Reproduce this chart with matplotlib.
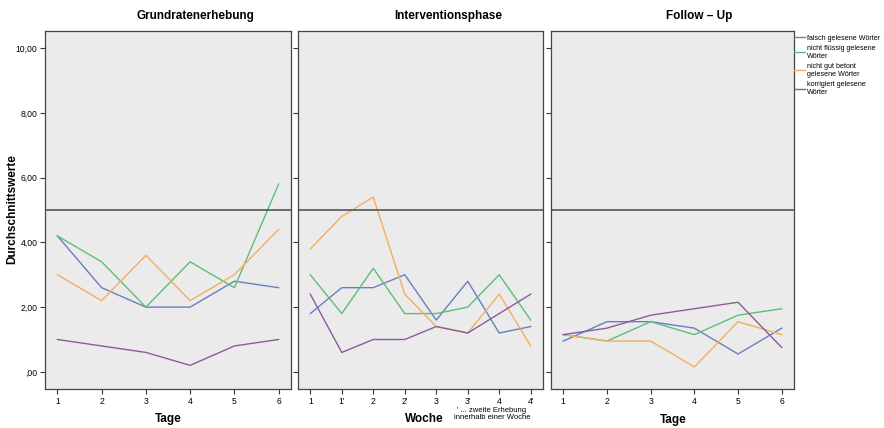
import matplotlib
matplotlib.use("Agg")
from matplotlib import pyplot as plt

plt.rcParams['font.family'] = ['Liberation Sans', 'DejaVu Sans']

# data
tage = ["1", "2", "3", "4", "5", "6"]
wochen = ["1", "1'", "2", "2'", "3", "3'", "4", "4'"]

series_names = ["falsch gelesene Wörter", "nicht flüssig gelesene\nWörter",
                "nicht gut betont\ngelesene Wörter", "korrigiert gelesene\nWörter"]
colors = ["#6a7ec0", "#5dbe78", "#f3ae60", "#8e5a9e"]

# Grundratenerhebung
grund_falsch = [4.2, 2.6, 2.0, 2.0, 2.8, 2.6]
grund_fluessig = [4.2, 3.4, 2.0, 3.4, 2.6, 5.8]
grund_betont = [3.0, 2.2, 3.6, 2.2, 3.0, 4.4]
grund_korrigiert = [1.0, 0.8, 0.6, 0.2, 0.8, 1.0]

# Interventionsphase
interv_falsch = [1.8, 2.6, 2.6, 3.0, 1.6, 2.8, 1.2, 1.4]
interv_fluessig = [3.0, 1.8, 3.2, 1.8, 1.8, 2.0, 3.0, 1.6]
interv_betont = [3.8, 4.8, 5.4, 2.4, 1.4, 1.2, 2.4, 0.8]
interv_korrigiert = [2.4, 0.6, 1.0, 1.0, 1.4, 1.2, 1.8, 2.4]

# Follow-Up
follow_falsch = [0.95, 1.55, 1.55, 1.35, 0.55, 1.35]
follow_fluessig = [1.15, 0.95, 1.55, 1.15, 1.75, 1.95]
follow_betont = [1.15, 0.95, 0.95, 0.15, 1.55, 1.15]
follow_korrigiert = [1.15, 1.35, 1.75, 1.95, 2.15, 0.75]

referenz = 5.0
yticks = [0, 2, 4, 6, 8, 10]
ytick_labels = [",00", "2,00", "4,00", "6,00", "8,00", "10,00"]

panels = [
    ("Grundratenerhebung", tage, [grund_falsch, grund_fluessig, grund_betont, grund_korrigiert]),
    ("Interventionsphase", wochen, [interv_falsch, interv_fluessig, interv_betont, interv_korrigiert]),
    ("Follow \u2013 Up", tage, [follow_falsch, follow_fluessig, follow_betont, follow_korrigiert]),
]

fig = plt.figure(figsize=(8.84, 4.28), dpi=100)
W, H = 884.0, 428.0
boxes = [(45, 291), (298, 543), (551, 794)]
top, bottom = 31, 389
title_x = [195, 448, 699]

axes = []
for i, (title, labels, data) in enumerate(panels):
    x0, x1 = boxes[i]
    ax = fig.add_axes([x0 / W, (H - bottom) / H, (x1 - x0) / W, (bottom - top) / H])
    ax.set_facecolor("#ebebeb")
    xs = list(range(len(labels)))
    for vals, c, name in zip(data, colors, series_names):
        ax.plot(xs, vals, color=c, linewidth=1.0, label=name)
    ax.axhline(referenz, color="#555555", linewidth=1.2)
    margin = 0.28 if len(labels) == 6 else 0.39
    ax.set_xlim(-margin, len(labels) - 1 + margin)
    ax.set_ylim(-0.53, 10.53)
    ax.set_xticks(xs)
    ax.set_xticklabels(labels, fontsize=6.2)
    ax.set_yticks(yticks)
    if i == 0:
        ax.set_yticklabels(ytick_labels, fontsize=6.2)
    else:
        ax.set_yticklabels([])
    ax.tick_params(direction="out", length=3.5, width=0.8, color="#333333", pad=2)
    for s in ax.spines.values():
        s.set_color("#444444")
        s.set_linewidth(0.9)
    fig.text(title_x[i] / W, 1 - 16 / H, title, ha="center", va="center",
             fontsize=8.5, fontweight="bold")
    axes.append(ax)

fig.text(12 / W, 1 - 209 / H, "Durchschnittswerte", rotation=90, ha="center",
         va="center", fontsize=8.5, fontweight="bold")
fig.text(168 / W, 1 - 419 / H, "Tage", ha="center", va="center", fontsize=8.5, fontweight="bold")
fig.text(424 / W, 1 - 419 / H, "Woche", ha="center", va="center", fontsize=8.5, fontweight="bold")
fig.text(673 / W, 1 - 420 / H, "Tage", ha="center", va="center", fontsize=8.5, fontweight="bold")
fig.text(492 / W, 1 - 414 / H, "' ... zweite Erhebung\ninnerhalb einer Woche", ha="center",
         va="center", fontsize=5.5, linespacing=0.95)

axes[2].legend(loc="upper left", bbox_to_anchor=(1.0, 0.99), frameon=False, fontsize=5.1,
               handlelength=1.6, handletextpad=0.3, borderaxespad=0, borderpad=0,
               labelspacing=0.45)

plt.savefig("out.png", dpi=100)
plt.close()
